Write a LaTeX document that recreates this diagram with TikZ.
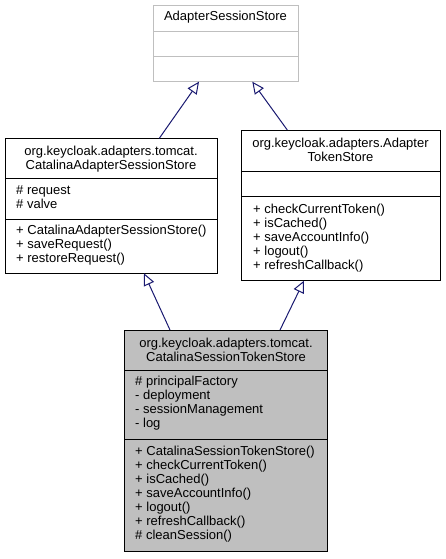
\documentclass[tikz,border=0pt]{standalone}
\usepackage{fontspec}
\setmainfont{Liberation Sans}
\usetikzlibrary{arrows.meta}
\definecolor{edgeblue}{HTML}{191970}
\definecolor{boxgray}{HTML}{BFBFBF}
\definecolor{lightborder}{HTML}{BFBFBF}
\tikzset{
  umlbox/.style={draw=black, line width=1pt, anchor=north west, inner sep=0pt, outer sep=0pt},
  extbox/.style={draw=lightborder, line width=1pt, anchor=north west, inner sep=0pt, outer sep=0pt},
  sepline/.style={line width=1pt},
  title/.style={anchor=base, inner sep=0pt, align=center, font=\fontsize{13}{14}\selectfont},
  members/.style={anchor=base west, inner sep=0pt, align=left, font=\fontsize{13}{14}\selectfont},
  inh/.style={draw=edgeblue, line width=1pt, -{Triangle[open, length=12pt, width=11pt, fill=white]}}
}
\begin{document}
\begin{tikzpicture}[x=1pt, y=-1pt]
\useasboundingbox (0,0) rectangle (445,559);

% top: AdapterSessionStore
\node[extbox, minimum width=145pt, minimum height=76.4pt] (ass) at (153,5.3) {};
\draw[sepline, draw=lightborder] ([yshift=-26pt]ass.north west) -- ([yshift=-26pt]ass.north east);
\draw[sepline, draw=lightborder] ([yshift=-51.4pt]ass.north west) -- ([yshift=-51.4pt]ass.north east);
\node[title] (asst) at (225.5,21) {AdapterSessionStore};

% left: CatalinaAdapterSessionStore
\node[umlbox, minimum width=212pt, minimum height=135pt] (cass) at (5,138.3) {};
\draw[sepline] ([yshift=-40pt]cass.north west) -- ([yshift=-40pt]cass.north east);
\draw[sepline] ([yshift=-81pt]cass.north west) -- ([yshift=-81pt]cass.north east);
\node[title] (casst) at (111,169.8) {org.keycloak.adapters.tomcat.\\CatalinaAdapterSessionStore};
\node[members] (cassa) at (16,208) {\# request\\\# valve};
\node[members] (cassm) at (16,262) {+ CatalinaAdapterSessionStore()\\+ saveRequest()\\+ restoreRequest()};

% right: AdapterTokenStore
\node[umlbox, minimum width=199pt, minimum height=150.7pt] (ats) at (241,130) {};
\draw[sepline] ([yshift=-41.7pt]ats.north west) -- ([yshift=-41.7pt]ats.north east);
\draw[sepline] ([yshift=-66.7pt]ats.north west) -- ([yshift=-66.7pt]ats.north east);
\node[title] (atst) at (340.5,161.5) {org.keycloak.adapters.Adapter\\TokenStore};
\node[members] (atsm) at (253,269) {+ checkCurrentToken()\\+ isCached()\\+ saveAccountInfo()\\+ logout()\\+ refreshCallback()};

% bottom: CatalinaSessionTokenStore
\node[umlbox, fill=boxgray, minimum width=203.4pt, minimum height=221.7pt] (csts) at (124.3,330) {};
\draw[sepline] ([yshift=-40pt]csts.north west) -- ([yshift=-40pt]csts.north east);
\draw[sepline] ([yshift=-109pt]csts.north west) -- ([yshift=-109pt]csts.north east);
\node[title] (cstst) at (226,361.5) {org.keycloak.adapters.tomcat.\\CatalinaSessionTokenStore};
\node[members] (cstsa) at (135,427.7) {\# principalFactory\\- deployment\\- sessionManagement\\- log};
\node[members] (cstsm) at (135,539.7) {+ CatalinaSessionTokenStore()\\+ checkCurrentToken()\\+ isCached()\\+ saveAccountInfo()\\+ logout()\\+ refreshCallback()\\\# cleanSession()};

% inheritance connectors
\draw[inh] ([xshift=154.3pt]cass.north west) -- ([xshift=46pt]ass.south west);
\draw[inh] ([xshift=46.3pt]ats.north west) -- ([xshift=99.3pt]ass.south west);
\draw[inh] ([xshift=45.7pt]csts.north west) -- ([xshift=139pt]cass.south west);
\draw[inh] ([xshift=155.7pt]csts.north west) -- ([xshift=63pt]ats.south west);
\end{tikzpicture}
\end{document}
